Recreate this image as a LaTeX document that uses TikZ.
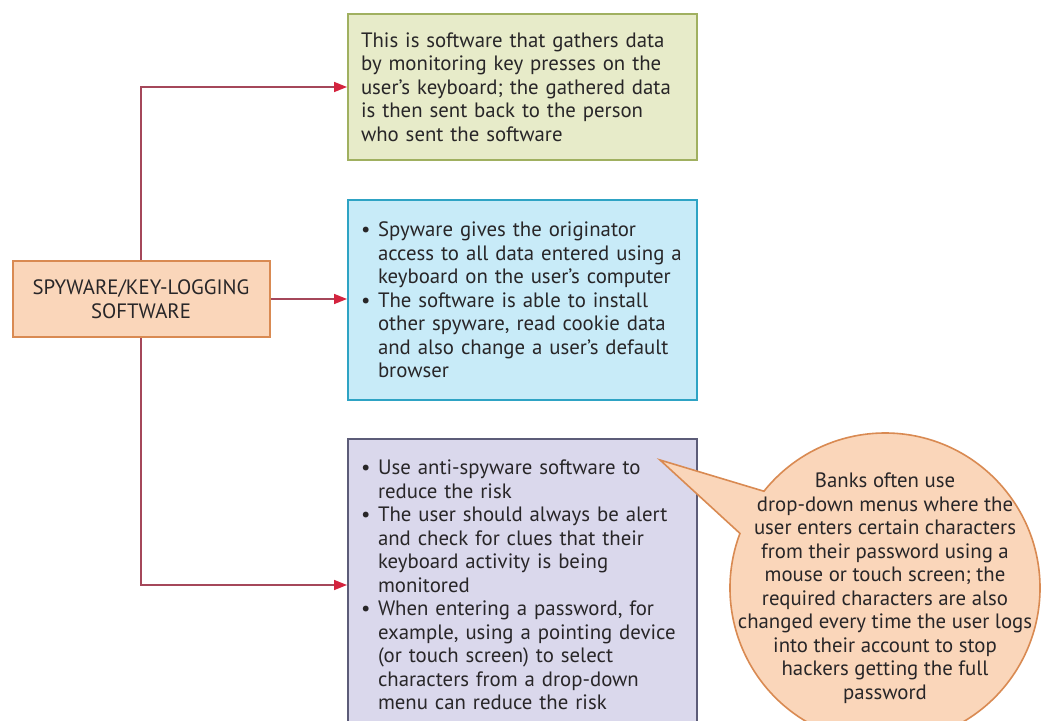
\documentclass[tikz,border=0pt]{standalone}
\usepackage{fontspec}
\setmainfont{PT Sans}
\usetikzlibrary{arrows.meta,positioning,shapes.callouts}
\definecolor{spyink}{RGB}{40,38,40}
\definecolor{spyline}{RGB}{165,71,90}
\definecolor{spyred}{RGB}{212,35,62}
\definecolor{spyorange}{RGB}{217,138,82}
\definecolor{spypeach}{RGB}{250,214,186}
\definecolor{spyolive}{RGB}{160,176,96}
\definecolor{spygreen}{RGB}{231,235,201}
\definecolor{spyteal}{RGB}{46,163,196}
\definecolor{spysky}{RGB}{200,235,248}
\definecolor{spyslate}{RGB}{92,92,120}
\definecolor{spylilac}{RGB}{218,216,236}
\newcommand\bitem{\makebox[8.5pt][l]{\textbullet}}
\newcommand\bcont{\hspace*{8.5pt}}

\begin{document}
\begin{tikzpicture}[x=0.5pt, y=-0.5pt,
  box/.style={draw, line width=1pt, align=left, inner xsep=6.5pt, text width=161.5pt, text=spyink, font=\fontsize{10.4}{11.75}\selectfont},
  link/.style={-{Triangle[length=6.5pt, width=5pt, color=spyred]}, draw=spyline, line width=0.8pt}]
\useasboundingbox (0,0) rectangle (1042,721);
\clip (0,0) rectangle (1042,721);
\fill[white] (0,0) rectangle (1042,721);
\node[box, draw=spyorange, fill=spypeach, align=center, text width=115.5pt, minimum height=38pt] (sw) at (141,299) {SPYWARE/KEY-LOGGING\\SOFTWARE};
\node[box, draw=spyolive, fill=spygreen, minimum height=73pt] (kl) at (522.5,87) {This is software that gathers data\\by monitoring key presses on the\\user’s keyboard; the gathered data\\is then sent back to the person\\who sent the software};
\node[box, draw=spyteal, fill=spysky, minimum height=100pt, below=19pt of kl] (sp) {\bitem Spyware gives the originator\\\bcont access to all data entered using a\\\bcont keyboard on the user’s computer\\\bitem The software is able to install\\\bcont other spyware, read cookie data\\\bcont and also change a user’s default\\\bcont browser};
\node[box, draw=spyslate, fill=spylilac, minimum height=146pt, below=18.5pt of sp] (df) {\bitem Use anti-spyware software to\\\bcont reduce the risk\\\bitem The user should always be alert\\\bcont and check for clues that their\\\bcont keyboard activity is being\\\bcont monitored\\\bitem When entering a password, for\\\bcont example, using a pointing device\\\bcont (or touch screen) to select\\\bcont characters from a drop-down\\\bcont menu can reduce the risk};
\coordinate (tip) at (660,460);
\node[ellipse callout, callout absolute pointer={(tip)}, callout pointer arc=18, draw=spyorange, fill=spypeach, line width=0.8pt, inner xsep=-30pt, inner ysep=-20pt, minimum width=155pt, minimum height=155pt, align=center, text=spyink, font=\fontsize{10.4}{11.75}\selectfont] (bk) at (885,588) {Banks often use\\drop-down menus where the\\user enters certain characters\\from their password using a\\mouse or touch screen; the\\required characters are also\\changed every time the user logs\\into their account to stop\\hackers getting the full\\password};
\draw[link] (sw.north) |- (kl.west); \draw[link] (sw.east) -- (sw.east -| sp.west); \draw[link] (sw.south) |- (df.west);
\end{tikzpicture}
\end{document}
